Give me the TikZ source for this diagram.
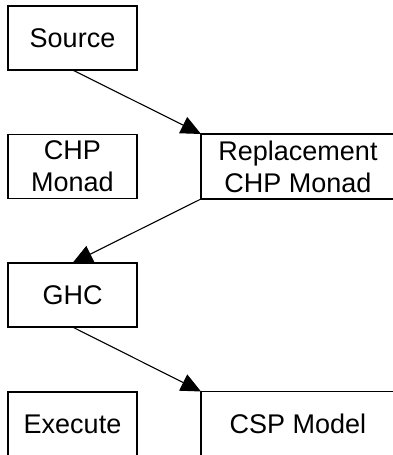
\documentclass[tikz,border=0pt]{standalone}
\usepackage{fontspec}
\setmainfont{Liberation Sans}
\usetikzlibrary{arrows.meta}
\begin{document}
\begin{tikzpicture}[x=1pt,y=1pt,
  box/.style={draw=black, line width=1.1pt, fill=white, inner sep=0pt, outer sep=0pt,
    align=center, font=\fontsize{27}{32}\selectfont},
  narrow/.style={box, minimum width=129pt, minimum height=64pt},
  wide/.style={box, minimum width=194pt, minimum height=65pt},
  flow/.style={line width=1.1pt, -{Triangle[length=20pt,width=18pt]}}]
  \useasboundingbox (0,0) rectangle (393,455);
  \clip (0,0) rectangle (393,455);

  % left column
  \node[narrow] (src) at (72.5,417) {Source};
  \node[narrow] (chp) at (72.5,288.5) {CHP\\Monad};
  \node[narrow] (ghc) at (72.5,160) {GHC};
  \node[narrow] (exe) at (72.5,31) {Execute};

  % right column
  \node[wide] (rep) at (298,288.5) {Replacement\\CHP Monad};
  \node[wide] (csp) at (298,31) {CSP Model};

  % connectors
  \draw[flow] (src.south) -- (rep.north west);
  \draw[flow] (rep.south west) -- (ghc.north);
  \draw[flow] (ghc.south) -- (csp.north west);
\end{tikzpicture}
\end{document}
